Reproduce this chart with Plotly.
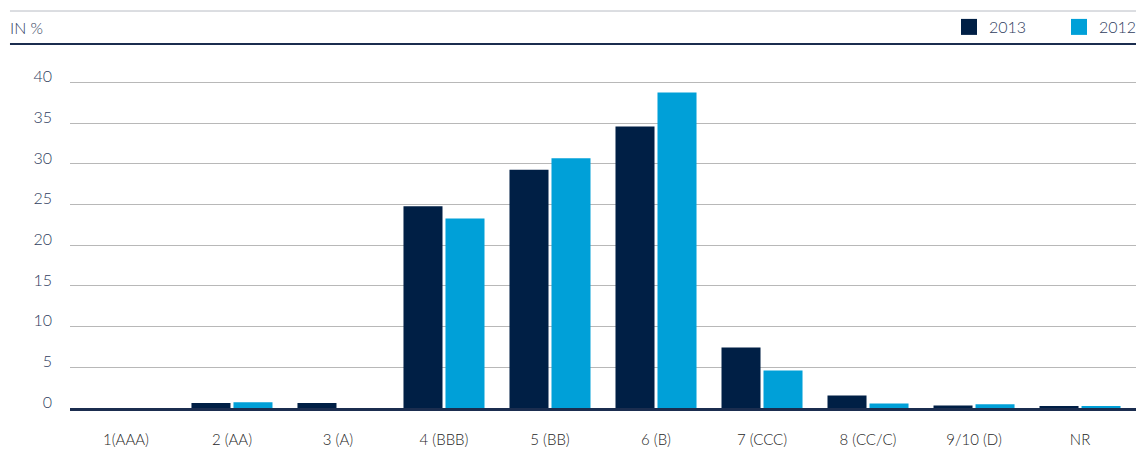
import plotly.graph_objects as go

# Rating classes and portfolio shares (in %)
categories = ["1(AAA)", "2 (AA)", "3 (A)", "4 (BBB)", "5 (BB)", "6 (B)",
              "7 (CCC)", "8 (CC/C)", "9/10 (D)", "NR"]
values_2013 = [0.0, 0.6, 0.6, 24.8, 29.3, 34.6, 7.45, 1.55, 0.3, 0.2]
values_2012 = [0.0, 0.7, 0.0, 23.3, 30.7, 38.8, 4.6, 0.55, 0.45, 0.15]
y_ticks = [0, 5, 10, 15, 20, 25, 30, 35, 40]

NAVY = "#001f45"
CYAN = "#00a0d8"
LABEL = "#2f3d5e"
FONT = "Lato, 'Open Sans', sans-serif"

fig = go.Figure()
fig.add_trace(go.Bar(name="2013", x=categories, y=values_2013, showlegend=False,
                     marker=dict(color=NAVY, line=dict(width=0))))
fig.add_trace(go.Bar(name="2012", x=categories, y=values_2012, showlegend=False,
                     marker=dict(color=CYAN, line=dict(width=0))))

# Legend entries with larger square swatches
for name, color in (("2013", NAVY), ("2012", CYAN)):
    fig.add_trace(go.Scatter(name=name, x=[None], y=[None], mode="markers",
                             marker=dict(symbol="square", size=16, color=color),
                             showlegend=True))

fig.update_layout(
    width=1136, height=471,
    margin=dict(l=70, r=0, t=60, b=63),
    paper_bgcolor="white", plot_bgcolor="white",
    barmode="group", bargap=0.2075, bargroupgap=0.071,
    font=dict(family=FONT, size=15, color=LABEL, weight=300),
    showlegend=True,
    legend=dict(orientation="h", xref="container", yref="container",
                x=949 / 1136, xanchor="left", y=1 - 27 / 471, yanchor="middle",
                font=dict(size=16, color=LABEL, weight=300),
                bgcolor="rgba(0,0,0,0)",
                entrywidth=65, itemsizing="trace", traceorder="normal"),
)

fig.update_xaxes(
    type="category", range=[-0.528, 9.528],
    showgrid=False, showline=True, linecolor="#1b2d4f", linewidth=2.5,
    ticks="", ticklabelstandoff=16,
    tickfont=dict(size=15, color="#262626", weight=300),
)
fig.update_yaxes(
    range=[0, 42.78], tickvals=y_ticks, showgrid=True,
    gridcolor="#b8b8b8", gridwidth=1, zeroline=False, showline=False,
    ticks="", ticklabelstandoff=17, ticklabelshift=-6,
    tickfont=dict(size=16, color=LABEL, weight=300),
)

# Header rules and unit label
fig.add_shape(type="line", xref="paper", yref="paper",
              x0=-0.0563, x1=1.0, y0=1.1408, y1=1.1408,
              line=dict(color="#b8bcc4", width=1))
fig.add_shape(type="line", xref="paper", yref="paper",
              x0=-0.0563, x1=1.0, y0=1.046, y1=1.046,
              line=dict(color="#1b2d4f", width=2))
fig.add_annotation(text="IN %", xref="paper", yref="paper",
                   x=-0.0582, xanchor="left", y=(408 - 28) / 348, yanchor="middle",
                   showarrow=False, font=dict(size=16, color=LABEL, weight=300))

fig.write_html("out.html")
